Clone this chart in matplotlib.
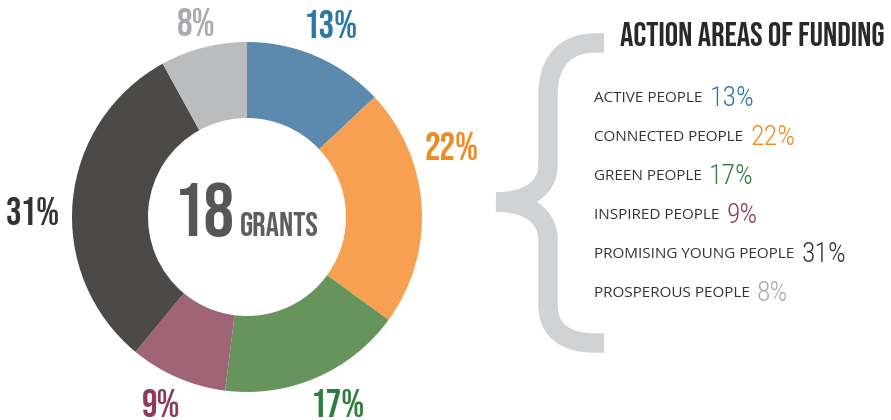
import matplotlib.pyplot as plt
from matplotlib.path import Path
from matplotlib.patches import PathPatch

# funding share per action area (percent)
areas = ["ACTIVE PEOPLE", "CONNECTED PEOPLE", "GREEN PEOPLE",
         "INSPIRED PEOPLE", "PROMISING YOUNG PEOPLE", "PROSPEROUS PEOPLE"]
shares = [13, 22, 17, 9, 31, 8]
n_grants = 18

slice_colors = ["#5b8aae", "#f7a052", "#67945c", "#9f6577", "#4b4a48", "#bbbcbe"]
text_colors = ["#2a78a3", "#f08a24", "#2f7e3e", "#8d3a5b", "#333333", "#a9abae"]

# where the labels round the ring sit (pixels)
label_pos = [(331, 24), (452, 146), (338, 403), (161, 403), (33, 211), (196, 22)]

cond = ["Bebas Neue", "Oswald", "DejaVu Sans"]
light = ["Roboto Condensed", "DejaVu Sans"]
body = ["Open Sans", "DejaVu Sans"]

fig = plt.figure(figsize=(8.91, 4.2), dpi=100)
ax = fig.add_axes([0, 0, 1, 1])

# y axis goes down, so counterclock=True draws clockwise on screen
ax.pie(shares, colors=slice_colors, center=(247, 217), radius=175,
       startangle=-90, counterclock=True,
       wedgeprops=dict(width=76, linewidth=0))
ax.set_xlim(0, 891)
ax.set_ylim(420, 0)
ax.set_aspect("equal")
ax.axis("off")

for s, (x, y), c in zip(shares, label_pos, text_colors):
    ax.text(x, y, f"{s}%", fontsize=28, family=cond,
            color=c, ha="center", va="center")

# centre text
ax.text(235, 236, str(n_grants), fontsize=55, family=cond, color="#555658",
        ha="right", va="baseline")
ax.text(240, 236, "GRANTS", fontsize=24, family=cond, color="#5d5e60",
        ha="left", va="baseline")

# curly brace
verts = [(604, 43), (595, 43),
         (565, 43), (548, 62), (548, 95),
         (548, 165),
         (548, 190), (525, 202), (496, 202),
         (525, 202), (548, 214), (548, 240),
         (548, 305),
         (548, 330), (565, 343), (595, 343),
         (604, 343)]
codes = [Path.MOVETO, Path.LINETO,
         Path.CURVE4, Path.CURVE4, Path.CURVE4,
         Path.LINETO,
         Path.CURVE4, Path.CURVE4, Path.CURVE4,
         Path.CURVE4, Path.CURVE4, Path.CURVE4,
         Path.LINETO,
         Path.CURVE4, Path.CURVE4, Path.CURVE4,
         Path.LINETO]
ax.add_patch(PathPatch(Path(verts, codes), fill=False, edgecolor="#d1d2d4",
                       linewidth=14, capstyle="butt", joinstyle="miter"))

ax.text(620, 46, "ACTION AREAS OF FUNDING", fontsize=24, family=cond,
        color="#2b2829", ha="left", va="baseline")

row_y = [102, 141, 180, 219, 258, 297]
for name, s, c, y in zip(areas, shares, text_colors, row_y):
    t = ax.text(594, y, name, fontsize=11, family=body, color="#333333",
                ha="left", va="baseline")
    ax.annotate(f"{s}%", xy=(1, 0), xycoords=t, xytext=(5, 0),
                textcoords="offset points", fontsize=20, family=light,
                fontweight="light", color=c, ha="left", va="baseline")

fig.savefig("out.png", dpi=100)
